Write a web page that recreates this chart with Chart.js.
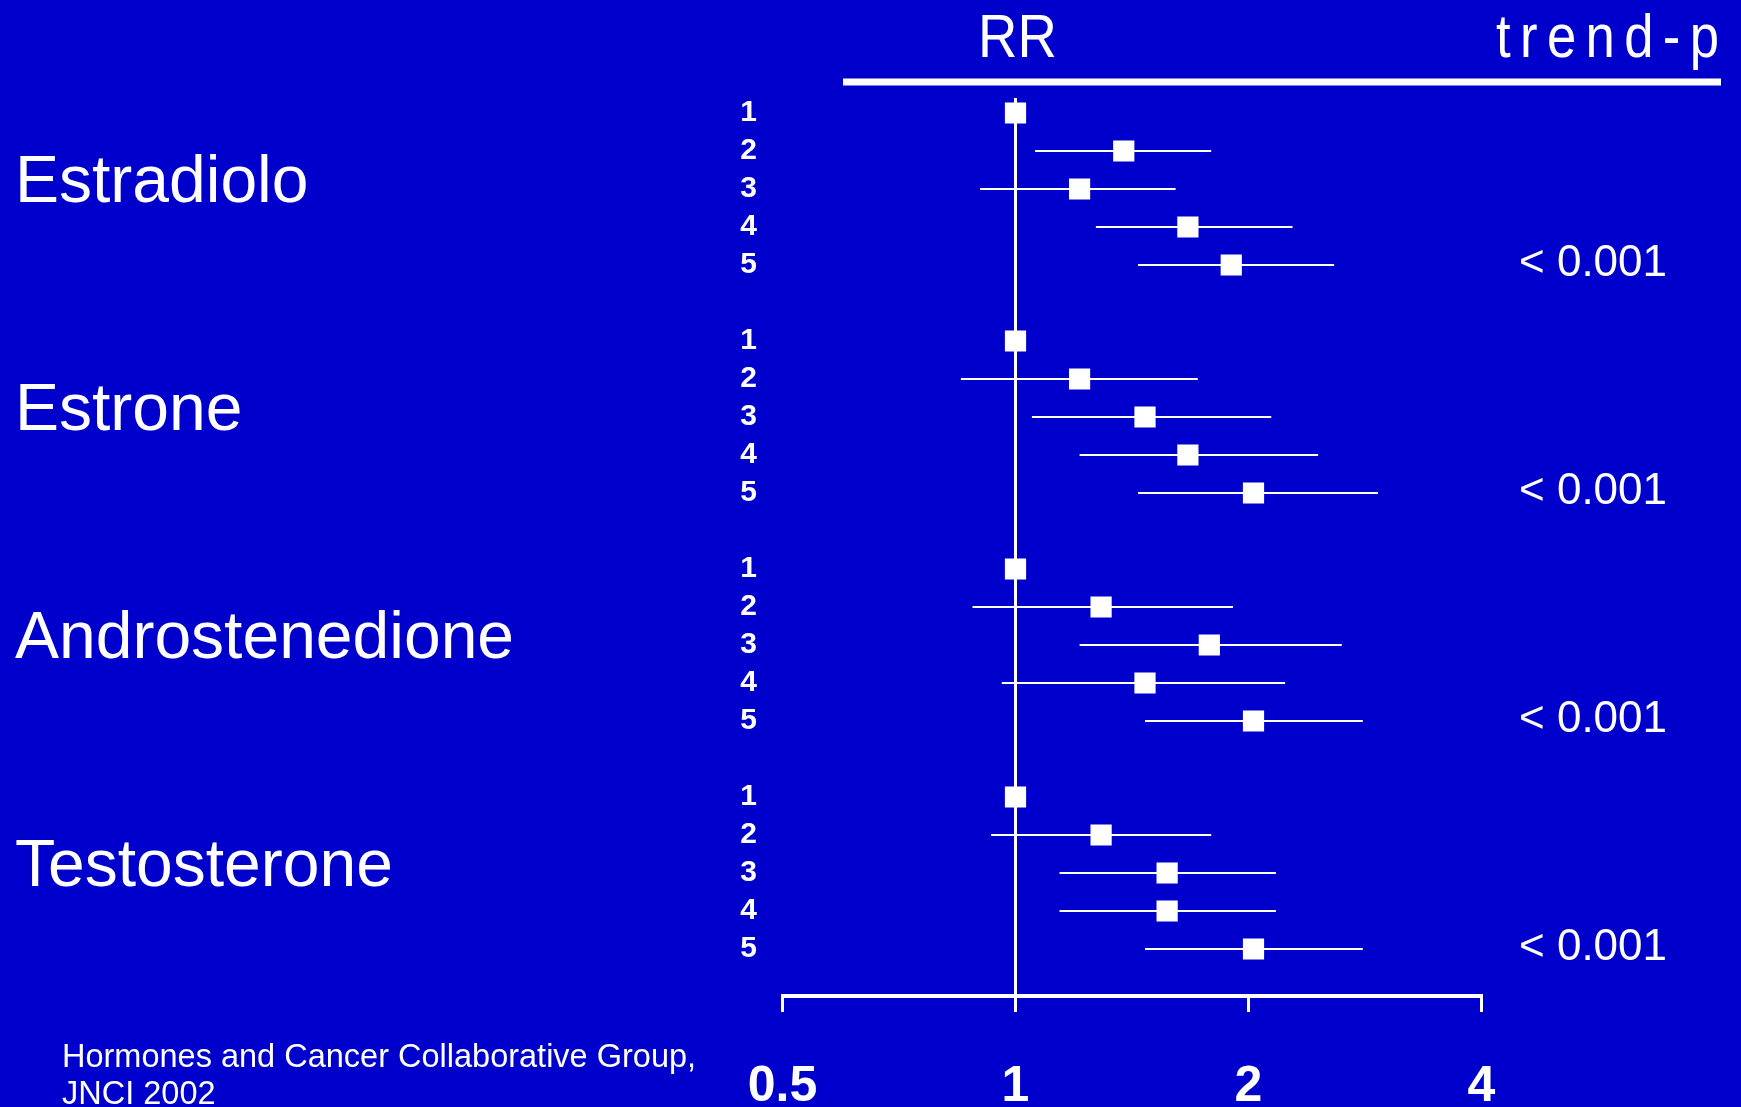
<!DOCTYPE html>
<html>
<head>
<meta charset="utf-8">
<script src="https://cdn.jsdelivr.net/npm/chart.js@4/dist/chart.umd.min.js"></script>
<style>
  html, body { margin: 0; padding: 0; background: #0000cc; overflow: hidden; }
  #wrap { width: 1741px; height: 1107px; }
</style>
</head>
<body>
<div id="wrap"><canvas id="c" width="1741" height="1107"></canvas></div>
<script>
// ---- data ----
const groups = ['Estradiolo', 'Estrone', 'Androstenedione', 'Testosterone'];
const quintiles = ['1', '2', '3', '4', '5'];
const estradiolRR = [1.00, 1.38, 1.21, 1.67, 1.90];
const estradiolLo = [null, 1.06, 0.90, 1.27, 1.44];
const estradiolHi = [null, 1.79, 1.61, 2.28, 2.58];
const estroneRR = [1.00, 1.21, 1.47, 1.67, 2.03];
const estroneLo = [null, 0.85, 1.05, 1.21, 1.44];
const estroneHi = [null, 1.72, 2.14, 2.46, 2.94];
const androRR = [1.00, 1.29, 1.78, 1.47, 2.03];
const androLo = [null, 0.88, 1.21, 0.96, 1.47];
const androHi = [null, 1.91, 2.64, 2.23, 2.81];
const testoRR = [1.00, 1.29, 1.57, 1.57, 2.03];
const testoLo = [null, 0.93, 1.14, 1.14, 1.47];
const testoHi = [null, 1.79, 2.17, 2.17, 2.81];
const trendP = ['< 0.001', '< 0.001', '< 0.001', '< 0.001'];
const xTickValues = [0.5, 1, 2, 4];
const xTickLabels = ['0.5', '1', '2', '4'];
const headerRR = 'RR';
const headerP = 'trend-p';
const sourceLines = ['Hormones and Cancer Collaborative Group,', 'JNCI 2002'];

// ---- build datasets ----
const rrSets = [estradiolRR, estroneRR, androRR, testoRR];
const loSets = [estradiolLo, estroneLo, androLo, testoLo];
const hiSets = [estradiolHi, estroneHi, androHi, testoHi];
const ROWS_PER_GROUP = quintiles.length + 1; // one blank row between groups

const rowIndex = (g, q) => g * ROWS_PER_GROUP + q;
const tickRows = [];
const points = [];
const ciSegments = [];
groups.forEach((name, g) => {
  quintiles.forEach((lab, q) => {
    const r = rowIndex(g, q);
    tickRows.push(r);
    points.push({ x: rrSets[g][q], y: r });
    if (loSets[g][q] != null && hiSets[g][q] != null) {
      ciSegments.push({ x: loSets[g][q], y: r });
      ciSegments.push({ x: hiSets[g][q], y: r });
      ciSegments.push({ x: null, y: null });
    }
  });
});

const WHITE = '#ffffff';
const SANS = "'Liberation Sans', Arial, sans-serif";

const decorPlugin = {
  id: 'decor',
  beforeDatasetsDraw(chart) {
    const { ctx, chartArea, scales } = chart;
    const x1 = scales.x.getPixelForValue(1);
    ctx.save();
    ctx.strokeStyle = WHITE;
    ctx.lineWidth = 3;
    ctx.beginPath();
    ctx.moveTo(x1, chartArea.top);
    ctx.lineTo(x1, chartArea.bottom);
    ctx.stroke();
    ctx.restore();
  },
  afterDraw(chart) {
    const { ctx, scales } = chart;
    const y = scales.y;
    ctx.save();
    ctx.fillStyle = WHITE;
    ctx.strokeStyle = WHITE;
    // header rule
    ctx.lineWidth = 7;
    ctx.beginPath();
    ctx.moveTo(843, 82);
    ctx.lineTo(1721, 82);
    ctx.stroke();
    // headers (condensed look)
    ctx.textBaseline = 'alphabetic';
    ctx.font = '62px ' + SANS;
    ctx.save();
    ctx.translate(scales.x.getPixelForValue(1) + 2, 57);
    ctx.scale(0.88, 1);
    ctx.textAlign = 'center';
    ctx.fillText(headerRR, 0, 0);
    ctx.restore();
    ctx.save();
    ctx.translate(1496, 57);
    ctx.scale(0.85, 1);
    ctx.textAlign = 'left';
    try { ctx.letterSpacing = '11px'; } catch (e) {}
    ctx.fillText(headerP, 0, 0);
    try { ctx.letterSpacing = '0px'; } catch (e) {}
    ctx.restore();
    // group names and trend p-values
    groups.forEach((name, g) => {
      const mid = y.getPixelForValue(rowIndex(g, 2));
      ctx.font = '66px ' + SANS;
      ctx.textAlign = 'left';
      ctx.fillText(name, 15, mid + 13);
      const last = y.getPixelForValue(rowIndex(g, quintiles.length - 1));
      ctx.font = '44px ' + SANS;
      ctx.fillText(trendP[g], 1519, last + 11);
    });
    // source
    ctx.font = '32.5px ' + SANS;
    ctx.textAlign = 'left';
    ctx.fillText(sourceLines[0], 62, 1067);
    ctx.fillText(sourceLines[1], 62, 1104);
    ctx.restore();
  }
};

new Chart(document.getElementById('c'), {
  type: 'scatter',
  data: {
    datasets: [
      {
        label: 'CI',
        data: ciSegments,
        showLine: true,
        spanGaps: false,
        borderColor: WHITE,
        borderWidth: 2,
        pointRadius: 0,
        pointHoverRadius: 0
      },
      {
        label: 'RR',
        data: points,
        pointStyle: 'rect',
        pointRadius: 15,
        pointHoverRadius: 15,
        backgroundColor: WHITE,
        borderColor: WHITE,
        borderWidth: 0
      }
    ]
  },
  options: {
    responsive: false,
    animation: false,
    devicePixelRatio: 1,
    layout: { padding: { top: 98, right: 259.5, left: 0, bottom: 0 } },
    plugins: { legend: { display: false }, tooltip: { enabled: false } },
    scales: {
      x: {
        type: 'logarithmic',
        position: 'bottom',
        min: 0.5,
        max: 4,
        afterBuildTicks: (s) => { s.ticks = xTickValues.map(v => ({ value: v })); },
        afterFit: (s) => { s.height = 111; },
        border: { display: true, color: WHITE, width: 4 },
        grid: {
          display: true,
          drawOnChartArea: false,
          drawTicks: true,
          tickLength: 16,
          color: WHITE,
          lineWidth: 3,
          tickWidth: 3,
          tickColor: WHITE
        },
        ticks: {
          autoSkip: false,
          maxRotation: 0,
          color: WHITE,
          padding: 45,
          font: { family: SANS, size: 50, weight: 'bold' },
          callback: (v) => {
            const i = xTickValues.indexOf(v);
            return i >= 0 ? xTickLabels[i] : '';
          }
        }
      },
      y: {
        type: 'linear',
        reverse: true,
        min: -0.395,
        max: 23.237,
        afterBuildTicks: (s) => { s.ticks = tickRows.map(v => ({ value: v })); },
        afterFit: (s) => { s.width = 782.5; },
        border: { display: false },
        grid: { display: false, drawTicks: false },
        ticks: {
          autoSkip: false,
          color: WHITE,
          padding: 25.5,
          font: { family: SANS, size: 30, weight: 'bold' },
          callback: (v) => quintiles[v % ROWS_PER_GROUP] ?? ''
        }
      }
    }
  },
  plugins: [decorPlugin]
});
</script>
</body>
</html>
